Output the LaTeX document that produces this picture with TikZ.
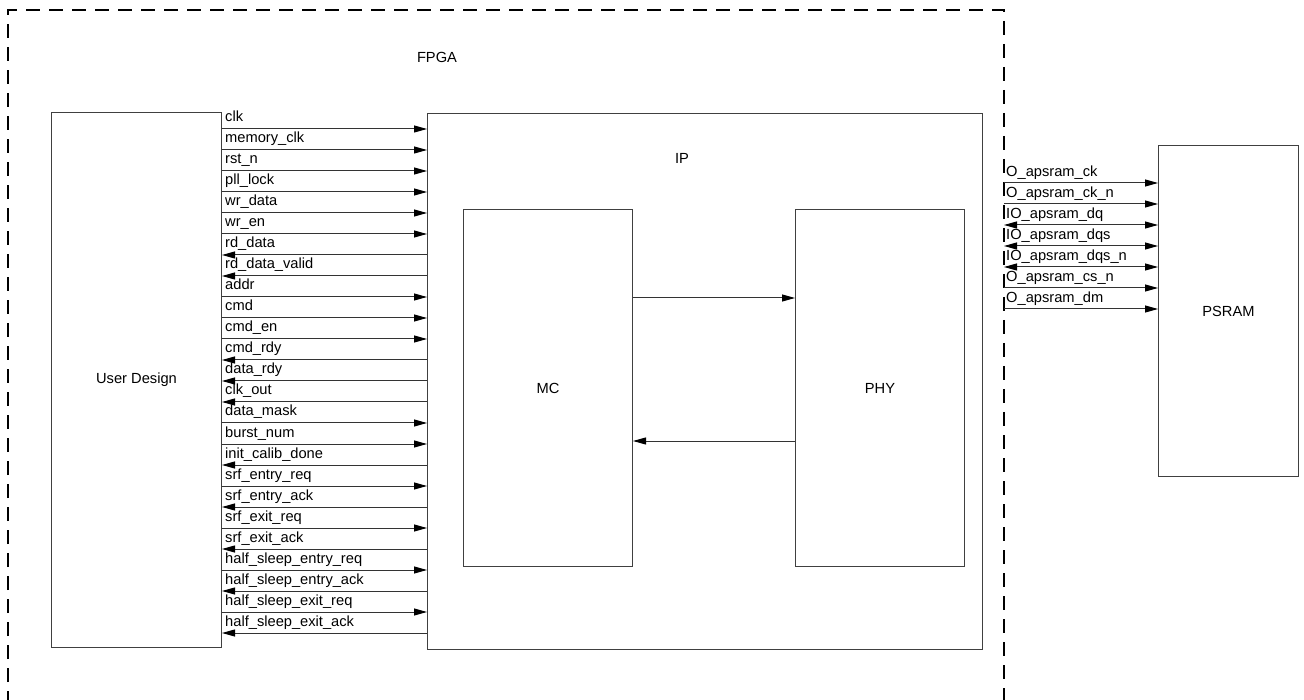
\documentclass[tikz,border=0pt]{standalone}
\usepackage{fontspec}
\setmainfont{Liberation Sans}
\usetikzlibrary{arrows.meta}
\begin{document}
\begin{tikzpicture}[x=1pt,y=-1pt,
  font=\fontsize{14.67}{17}\selectfont,
  box/.style={draw=black!75, line width=1pt, inner sep=0pt, anchor=north west},
  sig/.style={draw=black!80, line width=1pt},
  tp/.style={Triangle[length=13pt,width=7pt,color=black]},
  rgt/.style={sig, -{Triangle[length=13pt,width=7pt,color=black]}},
  lft/.style={sig, {Triangle[length=13pt,width=7pt,color=black]}-},
  both/.style={sig, {Triangle[length=13pt,width=7pt,color=black]}-{Triangle[length=13pt,width=7pt,color=black]}},
  lbl/.style={anchor=base west, inner sep=0pt},
  fpga/.style={draw=black, line width=2pt, dash pattern=on 14pt off 9pt}]
\useasboundingbox (0,0) rectangle (1304,700);
% FPGA dashed region
\coordinate (fbl) at (8,705);
\coordinate (ftl) at (8,10);
\coordinate (ftr) at (1004,10);
\coordinate (fbr) at (1004,705);
\draw[fpga] (fbl) -- (ftl) -- (ftr) -- (fbr);
\node (fpgalbl) at (437,57) {FPGA};
% boxes
\node[box, minimum width=170pt, minimum height=535pt] (ud) at (51,112) {};
\node (udlbl) at (ud.center) {User Design};
\node[box, minimum width=555pt, minimum height=536pt] (ip) at (427,113) {};
\node (iplbl) at (682,158) {IP};
\node[box, minimum width=169pt, minimum height=357pt] (mc) at (463,209) {};
\node (mclbl) at (mc.center) {MC};
\node[box, minimum width=169pt, minimum height=357pt] (phy) at (795,209) {};
\node (phylbl) at (phy.center) {PHY};
\node[box, minimum width=140pt, minimum height=331pt] (psram) at (1158,145) {};
\node (psramlbl) at (psram.center) {PSRAM};
% MC <-> PHY
\coordinate (m1) at (0,298);
\coordinate (m2) at (0,441);
\draw[rgt] (mc.east |- m1) -- (phy.west |- m1);
\draw[lft] (mc.east |- m2) -- (phy.west |- m2);
% user signals
\foreach \i/\nm/\dir in {
  0/clk/rgt, 1/memory\_clk/rgt, 2/rst\_n/rgt, 3/pll\_lock/rgt, 4/wr\_data/rgt, 5/wr\_en/rgt,
  6/rd\_data/lft, 7/rd\_data\_valid/lft, 8/addr/rgt, 9/cmd/rgt, 10/cmd\_en/rgt, 11/cmd\_rdy/lft,
  12/data\_rdy/lft, 13/clk\_out/lft, 14/data\_mask/rgt, 15/burst\_num/rgt, 16/init\_calib\_done/lft,
  17/srf\_entry\_req/rgt, 18/srf\_entry\_ack/lft, 19/srf\_exit\_req/rgt, 20/srf\_exit\_ack/lft,
  21/half\_sleep\_entry\_req/rgt, 22/half\_sleep\_entry\_ack/lft, 23/half\_sleep\_exit\_req/rgt,
  24/half\_sleep\_exit\_ack/lft}{
  \coordinate (r\i) at (0,{129+21*\i});
  \draw[\dir] (ud.east |- r\i) -- (ip.west |- r\i);
  \node[lbl] (s\i) at ([shift={(3,-7)}]ud.east |- r\i) {\nm};
}
% PSRAM signals
\foreach \i/\nm/\dir in {
  0/O\_apsram\_ck/rgt, 1/O\_apsram\_ck\_n/rgt, 2/IO\_apsram\_dq/both, 3/IO\_apsram\_dqs/both,
  4/IO\_apsram\_dqs\_n/both, 5/O\_apsram\_cs\_n/rgt, 6/O\_apsram\_dm/rgt}{
  \coordinate (p\i) at (0,{183+21*\i});
  \draw[\dir] (ftr |- p\i) -- (psram.west |- p\i);
  \node[lbl] (q\i) at ([shift={(2,-6)}]ftr |- p\i) {\nm};
}
\end{tikzpicture}
\end{document}
